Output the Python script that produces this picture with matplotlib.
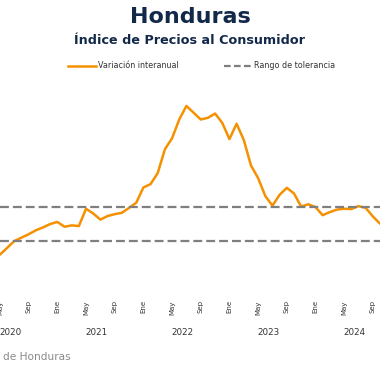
import numpy as np
import matplotlib
matplotlib.use("Agg")
import matplotlib.pyplot as plt

plt.rcParams['font.family'] = ['DejaVu Sans']

# meses desde Ene 2020 = 0 ; datos desde May 2020 hasta Oct 2024
meses = np.arange(4, 58)
inflacion = [2.2, 2.6, 3.0, 3.2, 3.4, 3.63, 3.8, 4.0,
             4.12, 3.84, 3.92, 3.88, 4.9, 4.62, 4.26, 4.47, 4.58, 4.66, 4.95, 5.25,
             6.15, 6.35, 7.0, 8.4, 9.05, 10.15, 10.95, 10.55, 10.15, 10.25, 10.5, 9.95,
             9.0, 9.9, 8.95, 7.45, 6.7, 5.65, 5.08, 5.72, 6.13, 5.8, 5.03, 5.16,
             5.0, 4.52, 4.7, 4.85, 4.9, 4.88, 5.05, 4.95, 4.45, 4.02]
tolerancia = [3.0, 5.0]
tick_pos = np.arange(4, 58, 4)
nombres_mes = {0: "Ene", 4: "May", 8: "Sep"}
tick_lbl = [nombres_mes[p % 12] for p in tick_pos]
anios = [2020, 2021, 2022, 2023, 2024]

naranja = "#F59100"
gris = "#7f7f7f"
azul = "#13294a"

fig = plt.figure(figsize=(3.8, 3.8), dpi=100)
ax = fig.add_axes([0.0, 0.2316, 1.0, 0.559])

ax.plot(meses, inflacion, color=naranja, lw=1.8, solid_joinstyle='round',
        solid_capstyle='round')
for t in tolerancia:
    ax.axhline(t, color=gris, lw=1.6, dashes=(4, 1.8))

ax.set_xlim(4.38, 57.0)
ax.set_ylim(0, 12.5)
for s in ax.spines.values():
    s.set_visible(False)
ax.set_yticks([])
ax.set_xticks(tick_pos)
ax.set_xticklabels(tick_lbl, rotation=90, fontsize=5, color="#333333")
ax.tick_params(axis='x', length=0, pad=6)

for a in anios:
    k = (a - 2020) * 12 + 5.5
    ax.text(k, -0.17, str(a), transform=ax.get_xaxis_transform(),
            ha='center', va='top', fontsize=6.3, color="#333333")

fig.text(0.5, 0.955, "Honduras", ha='center', va='center', fontsize=16,
         fontweight='bold', color=azul)
fig.text(0.5, 0.893, "Índice de Precios al Consumidor", ha='center',
         va='center', fontsize=9.2, fontweight='bold', color=azul)

# leyenda manual
fig.lines.append(plt.Line2D([68 / 380, 96 / 380], [1 - 66 / 380] * 2,
                            transform=fig.transFigure, color=naranja, lw=1.8))
fig.text(98 / 380, 1 - 66 / 380, "Variación interanual", ha='left', va='center',
         fontsize=5.8, color="#333333")
fig.lines.append(plt.Line2D([224 / 380, 251 / 380], [1 - 66 / 380] * 2,
                            transform=fig.transFigure, color=gris, lw=1.6,
                            dashes=(3, 1.5)))
fig.text(254 / 380, 1 - 66 / 380, "Rango de tolerancia", ha='left', va='center',
         fontsize=5.8, color="#333333")

fig.text(3 / 380, 1 - 357 / 380, "de Honduras",
         ha='left', va='center', fontsize=7.6, color="#8a8a8a")

fig.savefig("out.png", dpi=100, facecolor='white')
